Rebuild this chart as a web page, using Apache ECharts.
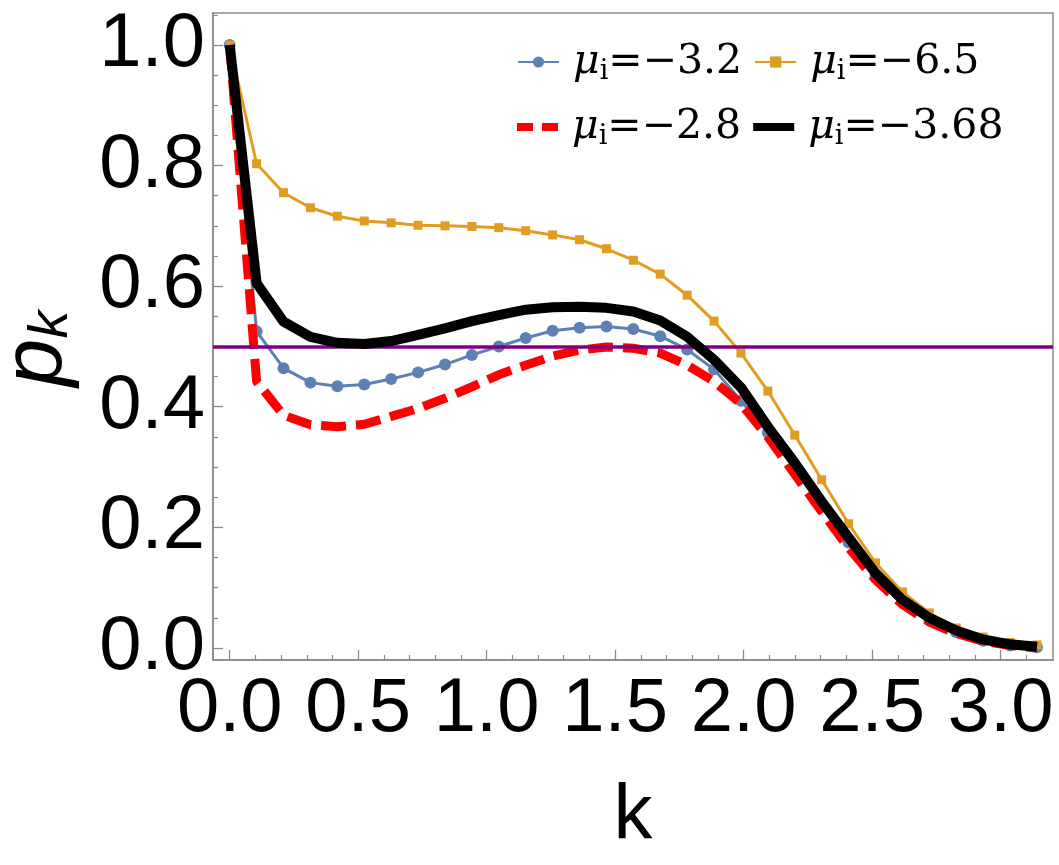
<!DOCTYPE html>
<html>
<head>
<meta charset="utf-8">
<script src="https://cdn.jsdelivr.net/npm/echarts@6/dist/echarts.min.js"></script>
<style>
  html, body { margin: 0; background: #fff; }
  #chart { width: 1059px; height: 865px; }
</style>
</head>
<body>
<div id="chart"></div>
<script>
// k grid (0 .. pi in 30 steps)
const kValues = [0, 0.1047, 0.2094, 0.3142, 0.4189, 0.5236, 0.6283, 0.7330, 0.8378, 0.9425,
  1.0472, 1.1519, 1.2566, 1.3614, 1.4661, 1.5708, 1.6755, 1.7802, 1.8850, 1.9897,
  2.0944, 2.1991, 2.3038, 2.4086, 2.5133, 2.6180, 2.7227, 2.8274, 2.9322, 3.0369, 3.1416]

// p_k for each mu_i
const pMu32 = [1.0, 0.525, 0.464, 0.440, 0.434, 0.437, 0.446, 0.457, 0.470, 0.486,
  0.500, 0.514, 0.526, 0.531, 0.533, 0.529, 0.517, 0.495, 0.462, 0.410,
  0.357, 0.296, 0.235, 0.175, 0.120, 0.077, 0.046, 0.026, 0.012, 0.004, 0.001]
const pMu65 = [1.0, 0.803, 0.755, 0.730, 0.716, 0.708, 0.705, 0.701, 0.700, 0.699,
  0.697, 0.692, 0.685, 0.677, 0.662, 0.643, 0.620, 0.585, 0.542, 0.489,
  0.426, 0.353, 0.279, 0.206, 0.141, 0.093, 0.058, 0.033, 0.018, 0.009, 0.005]
const pMu28 = [1.0, 0.442, 0.386, 0.370, 0.367, 0.371, 0.384, 0.397, 0.414, 0.433,
  0.453, 0.469, 0.484, 0.494, 0.499, 0.497, 0.489, 0.469, 0.442, 0.405,
  0.350, 0.288, 0.226, 0.166, 0.113, 0.072, 0.043, 0.024, 0.011, 0.004, 0.000]
const pMu368 = [1.0, 0.605, 0.541, 0.516, 0.506, 0.504, 0.509, 0.519, 0.530, 0.542,
  0.552, 0.561, 0.565, 0.566, 0.564, 0.558, 0.543, 0.516, 0.478, 0.432,
  0.367, 0.307, 0.243, 0.183, 0.124, 0.080, 0.050, 0.029, 0.014, 0.006, 0.002]
const halfLine = 0.5

// ticks
const majorX = [0, 0.5, 1.0, 1.5, 2.0, 2.5, 3.0]
const minorX = [0.1, 0.2, 0.3, 0.4, 0.6, 0.7, 0.8, 0.9, 1.1, 1.2, 1.3, 1.4, 1.6, 1.7, 1.8, 1.9,
  2.1, 2.2, 2.3, 2.4, 2.6, 2.7, 2.8, 2.9, 3.1]
const majorY = [0, 0.2, 0.4, 0.6, 0.8, 1.0]
const minorY = [0.05, 0.1, 0.15, 0.25, 0.3, 0.35, 0.45, 0.5, 0.55, 0.65, 0.7, 0.75,
  0.85, 0.9, 0.95, 1.05]

const names = ['μi=−3.2', 'μi=−6.5', 'μi=−2.8', 'μi=−3.68']

const zip = (ys) => kValues.map((k, i) => [k, ys[i]])

const frameColor = '#8a8a8a'
const X_MIN = -0.065, X_MAX = 3.204
const Y_MIN = -0.02, Y_MAX = 1.053

const chart = echarts.init(document.getElementById('chart'), null, { renderer: 'canvas' })

const legendText = {
  fontFamily: 'DejaVu Serif',
  color: '#000',
  rich: {
    sp: { width: 9 },
    mu: { fontFamily: 'DejaVu Serif', fontStyle: 'italic', fontSize: 41, lineHeight: 46 },
    sub: { fontFamily: 'DejaVu Serif', fontSize: 27, lineHeight: 27, padding: [19, 0, 0, 0] },
    t: { fontFamily: 'DejaVu Serif', fontSize: 41, lineHeight: 46 }
  }
}
const legendFormatter = (name) => '{sp|}{mu|μ}{sub|i}{t|' + name.slice(2) + '}'

const sansFont = 'Liberation Sans'

chart.setOption({
  animation: false,
  backgroundColor: '#fff',
  grid: {
    left: 213, right: 6, top: 13, bottom: 205,
    outerBoundsMode: 'none',
    show: true, borderColor: frameColor, borderWidth: 1.5
  },
  legend: [
    {
      data: [names[0], names[1]],
      left: 517, top: 39, padding: 0,
      itemWidth: 41, itemHeight: 14, itemGap: 12,
      formatter: legendFormatter,
      textStyle: legendText
    },
    {
      data: [
        { name: names[2], icon: 'path://M0,0H16V8H0Z M25,0H41V8H25Z' },
        { name: names[3], icon: 'path://M0,0H41V8H0Z' }
      ],
      left: 517, top: 104, padding: 0,
      itemWidth: 41, itemHeight: 14, itemGap: 12,
      formatter: legendFormatter,
      textStyle: legendText
    }
  ],
  xAxis: [
    {
      type: 'value', min: X_MIN, max: X_MAX,
      name: 'k', nameLocation: 'middle', nameGap: 118,
      nameTextStyle: { fontFamily: sansFont, fontSize: 78, color: '#000' },
      axisLine: { show: true, onZero: false, lineStyle: { color: frameColor, width: 1.5 } },
      axisTick: { show: true, inside: true, length: 10, customValues: majorX, lineStyle: { color: frameColor, width: 1.3 } },
      axisLabel: {
        customValues: majorX, margin: 12,
        fontFamily: sansFont, fontSize: 76, color: '#000',
        formatter: (v) => v.toFixed(1)
      },
      splitLine: { show: false }
    },
    {
      type: 'value', min: X_MIN, max: X_MAX, position: 'bottom',
      axisLine: { show: false, onZero: false },
      axisTick: { show: true, inside: true, length: 5, customValues: minorX, lineStyle: { color: frameColor, width: 1.2 } },
      axisLabel: { show: false },
      splitLine: { show: false }
    }
  ],
  yAxis: [
    {
      type: 'value', min: Y_MIN, max: Y_MAX,
      name: '{p|p}{k|k}', nameLocation: 'middle', nameGap: 131, nameRotate: 90,
      nameTextStyle: {
        padding: [0, 24, 0, 0],
        rich: {
          p: { fontFamily: sansFont, fontStyle: 'italic', fontSize: 86, lineHeight: 90, color: '#000' },
          k: { fontFamily: sansFont, fontStyle: 'italic', fontSize: 56, lineHeight: 56, padding: [28, 0, 0, 0], color: '#000' }
        }
      },
      axisLine: { show: true, onZero: false, lineStyle: { color: frameColor, width: 1.5 } },
      axisTick: { show: true, inside: true, length: 10, customValues: majorY, lineStyle: { color: frameColor, width: 1.3 } },
      axisLabel: {
        customValues: majorY, margin: 8,
        fontFamily: sansFont, fontSize: 76, color: '#000',
        formatter: (v) => v.toFixed(1)
      },
      splitLine: { show: false }
    },
    {
      type: 'value', min: Y_MIN, max: Y_MAX, position: 'left',
      axisLine: { show: false, onZero: false },
      axisTick: { show: true, inside: true, length: 5, customValues: minorY, lineStyle: { color: frameColor, width: 1.2 } },
      axisLabel: { show: false },
      splitLine: { show: false }
    }
  ],
  series: [
    {
      name: 'half', type: 'line', data: [], z: 1,
      markLine: {
        silent: true, symbol: 'none', label: { show: false },
        lineStyle: { color: '#800080', width: 3.5, type: 'solid' },
        data: [{ yAxis: halfLine }]
      }
    },
    {
      name: names[0], type: 'line', data: zip(pMu32), z: 2,
      color: '#5E81B5',
      symbol: 'circle', symbolSize: 12,
      lineStyle: { width: 3, color: '#5E81B5' },
      itemStyle: { color: '#5E81B5' }
    },
    {
      name: names[1], type: 'line', data: zip(pMu65), z: 3,
      color: '#E19C24',
      symbol: 'rect', symbolSize: 9,
      lineStyle: { width: 3, color: '#E19C24' },
      itemStyle: { color: '#E19C24' }
    },
    {
      name: names[2], type: 'line', data: zip(pMu28), z: 4,
      color: '#FF0000',
      showSymbol: false, symbol: 'none',
      itemStyle: { color: '#FF0000' },
      lineStyle: { width: 9, color: '#FF0000', type: [25, 10], cap: 'butt' }
    },
    {
      name: names[3], type: 'line', data: zip(pMu368), z: 5,
      color: '#000',
      showSymbol: false, symbol: 'none',
      itemStyle: { color: '#000' },
      lineStyle: { width: 10, color: '#000', join: 'round' }
    }
  ]
})
</script>
</body>
</html>
